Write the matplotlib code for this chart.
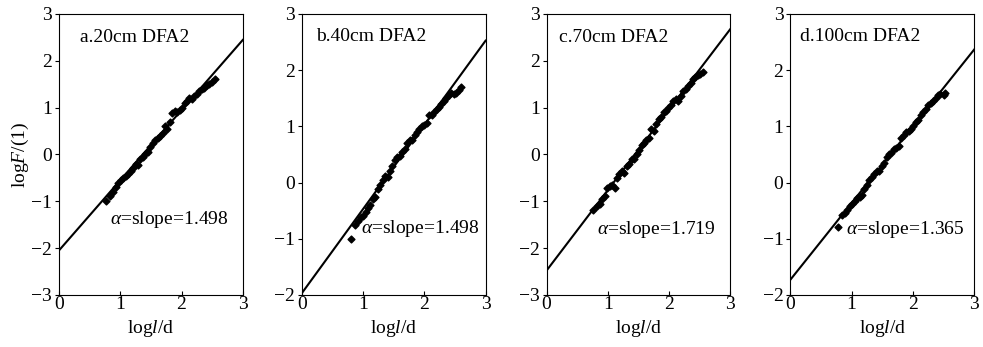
import matplotlib
matplotlib.use('Agg')
from matplotlib import pyplot as plt
import numpy as np

plt.rcParams['font.family'] = ['Liberation Serif', 'DejaVu Serif']
plt.rcParams['mathtext.fontset'] = 'custom'
plt.rcParams['mathtext.rm'] = 'Liberation Serif'
plt.rcParams['mathtext.it'] = 'Liberation Serif:italic'

titles = ['a.20cm DFA2', 'b.40cm DFA2', 'c.70cm DFA2', 'd.100cm DFA2']
slopes = [1.498, 1.498, 1.719, 1.365]
intercepts = [-2.05, -1.97, -2.48, -1.73]
ylims = [(-3, 3), (-2, 3), (-3, 3), (-2, 3)]

xa = [0.77, 0.83, 0.88, 0.93, 0.97, 1.01, 1.05, 1.09, 1.13, 1.17, 1.21, 1.25, 1.29, 1.33,
      1.37, 1.41, 1.45, 1.49, 1.53, 1.57, 1.61, 1.65, 1.69, 1.73, 1.77, 1.81, 1.85, 1.89,
      1.93, 1.97, 2.01, 2.05, 2.09, 2.13, 2.17, 2.21, 2.25, 2.29, 2.33, 2.37, 2.41, 2.45,
      2.50, 2.55]
ya = [-1.0, -0.88, -0.8, -0.7, -0.6, -0.55, -0.5, -0.47, -0.42, -0.35, -0.3, -0.2, -0.22, -0.1,
      -0.05, 0.0, 0.05, 0.15, 0.25, 0.3, 0.35, 0.4, 0.45, 0.6, 0.55, 0.7, 0.88, 0.92,
      0.9, 0.95, 1.0, 1.1, 1.15, 1.2, 1.18, 1.25, 1.3, 1.35, 1.4, 1.42, 1.48, 1.5,
      1.55, 1.62]

xb = [0.8, 0.87, 0.92, 0.96, 1.0, 1.04, 1.08, 1.12, 1.16, 1.2, 1.24, 1.28, 1.32, 1.36,
      1.40, 1.44, 1.48, 1.52, 1.56, 1.60, 1.64, 1.68, 1.72, 1.76, 1.80, 1.84, 1.88, 1.92,
      1.96, 2.0, 2.04, 2.08, 2.12, 2.16, 2.20, 2.24, 2.28, 2.32, 2.36, 2.40, 2.44, 2.48,
      2.52, 2.56, 2.6]
yb = [-1.0, -0.75, -0.68, -0.62, -0.6, -0.52, -0.45, -0.4, -0.3, -0.25, -0.12, -0.05, 0.05, 0.12,
      0.1, 0.2, 0.3, 0.4, 0.45, 0.47, 0.55, 0.6, 0.7, 0.75, 0.75, 0.85, 0.9, 0.95,
      1.0, 1.02, 1.05, 1.2, 1.2, 1.25, 1.3, 1.35, 1.4, 1.45, 1.5, 1.55, 1.6, 1.58,
      1.6, 1.65, 1.7]

xc = [0.75, 0.82, 0.87, 0.91, 0.95, 0.99, 1.03, 1.07, 1.11, 1.15, 1.19, 1.23, 1.27, 1.31,
      1.35, 1.39, 1.43, 1.47, 1.51, 1.55, 1.59, 1.63, 1.67, 1.71, 1.75, 1.79, 1.83, 1.87,
      1.91, 1.95, 1.99, 2.03, 2.07, 2.11, 2.15, 2.19, 2.23, 2.27, 2.31, 2.35, 2.39, 2.43,
      2.47, 2.51, 2.55]
yc = [-1.18, -1.1, -1.05, -0.95, -0.88, -0.72, -0.68, -0.65, -0.72, -0.5, -0.42, -0.35, -0.4, -0.25,
      -0.2, -0.1, -0.1, 0.0, 0.1, 0.2, 0.25, 0.3, 0.35, 0.55, 0.5, 0.65, 0.75, 0.8,
      0.9, 0.92, 1.0, 1.05, 1.15, 1.18, 1.15, 1.25, 1.35, 1.4, 1.45, 1.52, 1.6, 1.65,
      1.7, 1.72, 1.75]

xd = [0.78, 0.85, 0.89, 0.93, 0.97, 1.01, 1.05, 1.09, 1.13, 1.17, 1.21, 1.25, 1.29, 1.33,
      1.37, 1.41, 1.45, 1.49, 1.53, 1.57, 1.61, 1.65, 1.69, 1.73, 1.77, 1.81, 1.85, 1.89,
      1.93, 1.97, 2.01, 2.05, 2.09, 2.13, 2.17, 2.21, 2.25, 2.29, 2.33, 2.37, 2.41, 2.45,
      2.5, 2.53]
yd = [-0.8, -0.58, -0.55, -0.48, -0.42, -0.38, -0.32, -0.28, -0.25, -0.22, -0.12, -0.05, 0.05, 0.1,
      0.15, 0.2, 0.2, 0.3, 0.35, 0.45, 0.5, 0.52, 0.6, 0.62, 0.65, 0.8, 0.85, 0.9,
      0.92, 0.95, 1.0, 1.08, 1.12, 1.2, 1.25, 1.3, 1.38, 1.42, 1.45, 1.5, 1.55, 1.58,
      1.55, 1.6]

xs = [xa, xb, xc, xd]
ys = [ya, yb, yc, yd]

# text positions (data coords) for each panel
title_pos = [(0.34, 2.5), (0.24, 2.59), (0.21, 2.5), (0.16, 2.59)]
slope_pos = [(0.83, -1.4), (0.97, -0.81), (0.83, -1.61), (0.91, -0.84)]

fig = plt.figure(figsize=(9.83, 3.47), dpi=100)
lefts = [0.060, 0.307, 0.556, 0.804]
fs = 14

for i in range(4):
    ax = fig.add_axes([lefts[i], 0.150, 0.187, 0.810])
    lx = np.array([0, 3])
    ax.plot(lx, intercepts[i] + slopes[i] * lx, color='black', lw=1.5)
    ax.scatter(xs[i], ys[i], marker='D', s=12, color='black', zorder=3)
    ax.set_xlim(0, 3)
    ax.set_ylim(*ylims[i])
    ax.set_xticks([0, 1, 2, 3])
    ax.set_yticks(range(ylims[i][0], ylims[i][1] + 1))
    ax.set_yticklabels(['\u2212%d' % -v if v < 0 else str(v) for v in range(ylims[i][0], ylims[i][1] + 1)])
    ax.tick_params(labelsize=fs, length=3, width=0.8)
    ax.tick_params(axis='x', direction='in', pad=1)
    ax.tick_params(axis='y', pad=2)
    for sp in ax.spines.values():
        sp.set_linewidth(0.8)
    ax.text(*title_pos[i], titles[i], fontsize=fs, va='center', ha='left')
    ax.text(*slope_pos[i], r'$\it{\alpha}$=slope=%.3f' % slopes[i], fontsize=fs, va='center', ha='left')
    ax.set_xlabel(r'log$\it{l}$/d', fontsize=fs, labelpad=3)
    if i == 0:
        ax.set_ylabel(r'log$\it{F}$/(1)', fontsize=fs, labelpad=0)

fig.savefig('out.png', dpi=100)
